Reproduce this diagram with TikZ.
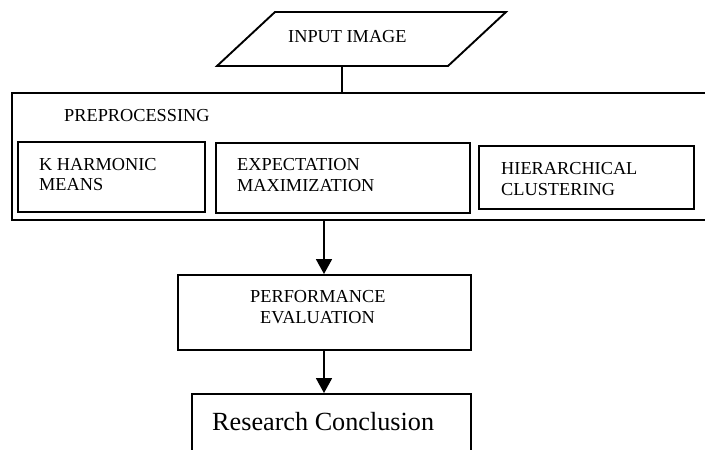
\documentclass[tikz,border=0pt]{standalone}
\usepackage{fontspec}
\setmainfont{Liberation Serif}
\usetikzlibrary{arrows.meta}
\tikzset{
  box/.style={draw=black, line width=1.9pt, rectangle, inner sep=0pt, fill=white},
  outerbox/.style={draw=black, line width=1.9pt, rectangle, inner sep=0pt},
  lbl/.style={anchor=base west, inner sep=0pt, font=\fontsize{18.3}{21}\selectfont},
  biglbl/.style={anchor=base west, inner sep=0pt, font=\fontsize{26.2}{30}\selectfont},
  conn/.style={line width=1.8pt},
  arr/.style={line width=1.8pt, -{Triangle[length=15pt, width=16pt]}}
}
\begin{document}
\begin{tikzpicture}[x=1pt, y=-1pt]
\clip (0,0) rectangle (705,450);
\fill[white] (0,0) rectangle (705,450);
% input parallelogram
\draw[line width=1.9pt, line join=miter] (275,12) -- (506,12) -- (448,66) -- (217,66) -- cycle;
\node[lbl] (tin) at (288,42) {INPUT IMAGE};
\coordinate (inbot) at (342,66);
% preprocessing outer box
\node[outerbox, minimum width=696pt, minimum height=127pt] (pre) at (360,156.5) {};
\node[lbl] (tpre) at (64,121) {PREPROCESSING};
% inner boxes
\node[box, minimum width=187pt, minimum height=70pt] (khm) at (111.5,177) {};
\node[lbl] (tkhm1) at (39,170) {K HARMONIC};
\node[lbl] (tkhm2) at (39,190) {MEANS};
\node[box, minimum width=254pt, minimum height=70pt] (em) at (343,178) {};
\node[lbl] (tem1) at (237,170) {EXPECTATION};
\node[lbl] (tem2) at (237,191) {MAXIMIZATION};
\node[box, minimum width=215pt, minimum height=63pt] (hc) at (586.5,177.5) {};
\node[lbl] (thc1) at (501,174) {HIERARCHICAL};
\node[lbl] (thc2) at (501,195) {CLUSTERING};
% performance evaluation
\node[box, minimum width=293pt, minimum height=75pt] (pe) at (324.5,312.5) {};
\node[lbl] (tpe1) at (250,302) {PERFORMANCE};
\node[lbl] (tpe2) at (260,323) {EVALUATION};
% research conclusion
\node[box, minimum width=279pt, minimum height=80pt] (rc) at (331.5,434) {};
\node[biglbl] (trc) at (212,430) {Research Conclusion};
% connectors
\draw[conn] (inbot) -- (inbot |- pre.north);
\draw[arr] (pre.south -| 324,0) -- (pe.north -| 324,0);
\draw[arr] (pe.south -| 324,0) -- (rc.north -| 324,0);
\end{tikzpicture}
\end{document}
